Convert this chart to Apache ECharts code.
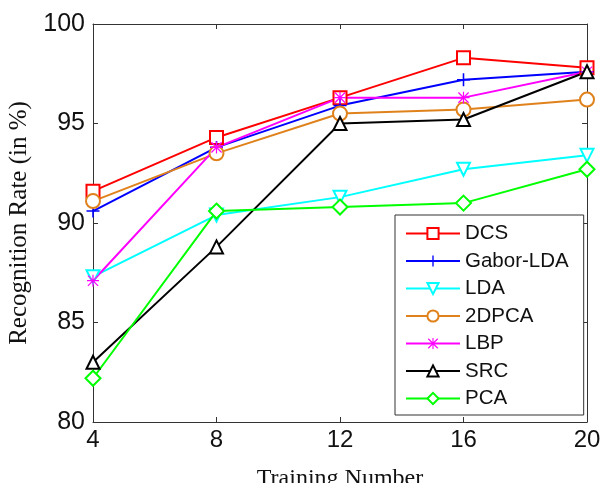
<!DOCTYPE html>
<html>
<head>
<meta charset="utf-8">
<script src="https://cdn.jsdelivr.net/npm/echarts@6/dist/echarts.min.js"></script>
<style>
  html, body { margin: 0; padding: 0; background: #fff; }
  #chart { width: 603px; height: 483px; }
</style>
</head>
<body>
<div id="chart"></div>
<script>
// training numbers on the x axis
const trainNum = [4, 8, 12, 16, 20]

// recognition rate (%) per method
const dcs = [91.6, 94.3, 96.3, 98.3, 97.8]
const gaborLda = [90.6, 93.8, 95.9, 97.2, 97.6]
const lda = [87.3, 90.4, 91.3, 92.7, 93.4]
const dpca2 = [91.1, 93.5, 95.5, 95.7, 96.2]
const lbp = [87.1, 93.8, 96.3, 96.3, 97.6]
const src = [83.0, 88.8, 95.0, 95.2, 97.6]
const pca = [82.2, 90.6, 90.8, 91.0, 92.7]

const plusPath = 'path://M0,4.4H10V5.6H0Z M4.4,0H5.6V10H4.4Z'
const starPath = 'path://M0,4.5H10V5.5H0Z M4.5,0H5.5V10H4.5Z M1.1,0.4L9.6,8.9L8.9,9.6L0.4,1.1Z M8.9,0.4L9.6,1.1L1.1,9.6L0.4,8.9Z'

function pairs(vals) {
  return trainNum.map((x, i) => [x, vals[i]])
}

function line(name, vals, color, symbol, size, rotate) {
  return {
    name: name,
    type: 'line',
    data: pairs(vals),
    symbol: symbol,
    symbolSize: size,
    symbolRotate: rotate || 0,
    symbolKeepAspect: true,
    showAllSymbol: true,
    lineStyle: { color: color, width: 2 },
    itemStyle: { color: color, borderWidth: 1.5 },
    emphasis: { disabled: true },
    animation: false
  }
}

const chart = echarts.init(document.getElementById('chart'))

const axisLine = { show: true, lineStyle: { color: '#333', width: 1 } }
const ticks = { show: true, inside: true, length: 5, lineStyle: { color: '#333' } }

chart.setOption({
  grid: { left: 93, right: 16, top: 24, bottom: 61, outerBoundsMode: 'none' },
  legend: {
    orient: 'vertical',
    left: 395,
    top: 215,
    padding: [8, 15, 6, 10],
    itemWidth: 54,
    itemHeight: 14,
    itemGap: 6.5,
    backgroundColor: '#fff',
    borderColor: '#333',
    borderWidth: 1,
    borderRadius: 0,
    textStyle: { fontFamily: 'Arial, Liberation Sans', fontSize: 20.5, lineHeight: 20, color: '#111' },
    data: ['DCS', 'Gabor-LDA', 'LDA', '2DPCA', 'LBP', 'SRC', 'PCA']
  },
  xAxis: [{
    type: 'value',
    min: 4,
    max: 20,
    interval: 4,
    name: 'Training Number',
    nameLocation: 'middle',
    nameGap: 45,
    nameTextStyle: { fontFamily: 'Liberation Serif, Times New Roman', fontSize: 24, color: '#111' },
    axisLine: axisLine,
    axisTick: ticks,
    axisLabel: { fontFamily: 'Arial, Liberation Sans', fontSize: 24, color: '#111', margin: 6 },
    splitLine: { show: false }
  }, {
    type: 'value',
    position: 'top',
    min: 4,
    max: 20,
    interval: 4,
    axisLine: axisLine,
    axisTick: ticks,
    axisLabel: { show: false },
    splitLine: { show: false }
  }],
  yAxis: [{
    type: 'value',
    min: 80,
    max: 100,
    interval: 5,
    name: 'Recognition Rate (in %)',
    nameLocation: 'middle',
    nameGap: 50,
    nameTextStyle: { fontFamily: 'Liberation Serif, Times New Roman', fontSize: 25, color: '#111' },
    axisLine: axisLine,
    axisTick: ticks,
    axisLabel: { fontFamily: 'Arial, Liberation Sans', fontSize: 25, color: '#111', margin: 8 },
    splitLine: { show: false }
  }, {
    type: 'value',
    position: 'right',
    min: 80,
    max: 100,
    interval: 5,
    axisLine: axisLine,
    axisTick: ticks,
    axisLabel: { show: false },
    splitLine: { show: false }
  }],
  series: [
    line('DCS', dcs, '#ff0000', 'emptyRect', 13),
    line('Gabor-LDA', gaborLda, '#0000ff', plusPath, 13),
    line('LDA', lda, '#00ffff', 'emptyTriangle', 13, 180),
    line('2DPCA', dpca2, '#e0821c', 'emptyCircle', 14),
    line('LBP', lbp, '#ff00ff', starPath, 12),
    line('SRC', src, '#000000', 'emptyTriangle', 13),
    line('PCA', pca, '#00ff00', 'emptyDiamond', 15)
  ]
})
</script>
</body>
</html>
